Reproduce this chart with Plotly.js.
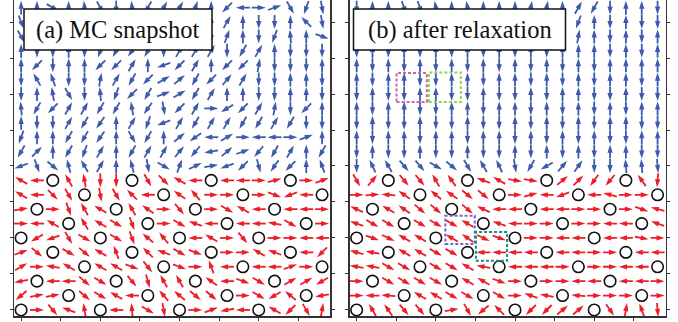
<!DOCTYPE html>
<html><head><meta charset="utf-8">
<script src="https://cdn.plot.ly/plotly-3.0.1.min.js"></script>
<style>html,body{margin:0;padding:0;background:#fff}#chart{width:678px;height:322px}</style>
</head><body><div id="chart"></div>
<script>
// Spin directions in degrees (counter-clockwise from +x). Rows are listed top to bottom.
// Blue rows = y 21..10, red rows = y 9..0. null = vacancy (drawn as open circle).
const aBlue = [
 [90, 90, 330, 90, 95, 300, 270, 95, 240, 60, 60, 70, 90, 225, 180, 0, 20, 300, 250, 280],
 [290, 270, 90, 270, 90, 270, 90, 270, 90, 270, 90, 270, 90, 60, 90, 270, 270, 90, 135, 280],
 [300, 90, 270, 90, 270, 90, 270, 90, 270, 90, 270, 90, 270, 70, 90, 270, 250, 95, 90, 340],
 [90, 270, 270, 90, 270, 250, 240, 235, 240, 270, 60, 60, 60, 270, 240, 60, 90, 270, 270, 270],
 [90, 225, 270, 90, 90, 225, 225, 60, 90, 200, 225, 60, 90, 225, 225, 80, 270, 270, 270, 90],
 [270, 120, 110, 270, 270, 80, 60, 240, 225, 30, 40, 240, 225, 50, 60, 270, 270, 90, 90, 270],
 [270, 90, 100, 300, 270, 95, 250, 225, 240, 20, 30, 240, 60, 90, 90, 270, 270, 90, 90, 270],
 [95, 240, 225, 60, 60, 240, 240, 100, 235, 280, 225, 60, 0, 210, 225, 60, 80, 270, 225, 90],
 [90, 270, 270, 60, 240, 235, 90, 60, 250, 200, 60, 240, 60, 60, 240, 240, 60, 240, 270, 270],
 [250, 90, 90, 240, 240, 235, 90, 300, 240, 90, 40, 215, 180, 30, 0, 180, 180, 0, 20, 90],
 [240, 45, 90, 240, 250, 60, 90, 240, 60, 60, 50, 230, 190, 40, 20, 230, 240, 60, 90, 240],
 [200, 290, 320, 105, 120, 60, 90, 105, 280, 330, 70, 25, 10, 200, 225, 285, 235, 225, 90, 110]
];
const aRed = [
 [150, 180, null, 120, 100, 270, 270, null, 300, 315, 150, 180, null, 180, 180, 0, 15, null, 0, 20],
 [150, 180, 315, 300, null, 280, 300, 135, 180, null, 145, 130, 0, 0, null, 0, 340, 200, 180, null],
 [10, null, 0, 290, 120, 150, null, 120, 145, 0, 310, null, 0, 330, 150, 180, null, 180, 180, 0],
 [0, 180, 150, null, 120, 150, 330, 290, null, 0, 330, 160, 180, null, 180, 180, 170, 330, null, 0],
 [null, 210, 200, 300, 330, null, 330, 290, 140, 130, null, 180, 150, 0, 310, null, 0, 0, 180, 180],
 [20, 320, null, 330, 320, 150, 110, null, 135, 160, 330, 340, null, 0, 0, 150, 160, null, 180, 225],
 [30, 0, 170, 150, null, 150, 150, 340, 310, null, 340, 0, 110, 180, null, 180, 180, 20, 0, null],
 [190, null, 180, 180, 320, 330, null, 310, 285, 120, 120, null, 145, 180, 340, 330, null, 30, 30, 210],
 [220, 10, 10, null, 320, 330, 150, 180, null, 130, 140, 320, 320, null, 0, 330, 210, 140, null, 190],
 [null, 0, 310, 160, 100, null, 180, 95, 330, 280, null, 0, 20, 190, 180, null, 150, 225, 300, 80]
];
const bBlue = [
 [270, 90, 90, 290, 290, 100, 90, 100, 90, 90, 90, 80, 80, 90, 60, 240, 270, 90, 90, 270],
 [270, 90, 270, 90, 270, 90, 270, 90, 270, 90, 270, 90, 270, 90, 250, 90, 270, 90, 270, 270],
 [270, 90, 270, 90, 270, 90, 270, 90, 270, 90, 270, 90, 270, 90, 80, 90, 270, 90, 270, 90],
 [270, 90, 270, 90, 270, 90, 270, 90, 270, 90, 270, 90, 270, 90, 90, 90, 270, 90, 270, 90],
 [90, 270, 90, 270, 90, 270, 90, 270, 90, 270, 90, 270, 90, 270, 90, 270, 90, 90, 90, 90],
 [90, 270, 90, 90, 270, 270, 90, 90, 270, 90, 90, 270, 90, 270, 90, 270, 90, 90, 270, 90],
 [270, 90, 270, 270, 90, 90, 270, 270, 90, 270, 270, 90, 270, 90, 90, 270, 270, 90, 270, 270],
 [90, 270, 90, 90, 270, 270, 90, 90, 270, 90, 90, 270, 90, 270, 90, 270, 90, 270, 90, 90],
 [270, 90, 270, 270, 90, 270, 270, 90, 270, 270, 90, 270, 90, 270, 90, 270, 90, 90, 270, 270],
 [90, 270, 90, 90, 270, 90, 90, 270, 90, 90, 270, 90, 270, 90, 270, 90, 270, 270, 90, 90],
 [270, 90, 270, 270, 90, 270, 270, 90, 270, 270, 90, 270, 90, 270, 90, 270, 90, 90, 270, 270],
 [270, 115, 120, 310, 310, 330, 320, 300, 120, 115, 280, 240, 210, 50, 55, 270, 270, 95, 95, 275]
];
const bRed = [
 [300, 50, null, 310, 310, 120, 125, null, 160, 150, 350, 350, null, 40, 45, 235, 230, null, 125, 265],
 [0, 5, 175, 145, null, 140, 145, 320, 320, null, 0, 15, 180, 200, null, 180, 165, 0, 0, null],
 [155, null, 150, 145, 320, 320, null, 320, 155, 180, 180, null, 180, 180, 0, 0, null, 0, 340, 165],
 [160, 330, 330, null, 330, 330, 330, 150, null, 160, 180, 0, 0, null, 0, 0, 180, 180, null, 160],
 [null, 340, 335, 150, 150, null, 150, 145, 335, 340, null, 0, 0, 180, 180, null, 180, 180, 350, 0],
 [165, 170, null, 150, 150, 330, 330, null, 180, 180, 180, 180, null, 180, 180, 0, 0, null, 180, 180],
 [170, 170, 330, 330, null, 330, 330, 150, 170, null, 180, 180, 180, 0, null, 0, 0, 180, 180, null],
 [0, null, 330, 330, 330, 330, null, 150, 150, 340, 0, null, 0, 0, 180, 180, null, 180, 180, 0],
 [0, 180, 175, null, 150, 150, 330, 330, null, 330, 0, 160, 170, null, 175, 0, 0, 0, null, 0],
 [null, 120, 125, 310, 310, null, 10, 300, 220, 135, null, 225, 225, 40, 40, null, 305, 80, 110, 275]
];
const panelLabels = ['(a) MC snapshot', '(b) after relaxation'];
const xTicks = [0, 2.5, 5, 7.5, 10, 12.5, 15, 17.5];
const yTicks = [0, 2.5, 5, 7.5, 10, 12.5, 15, 17.5, 20];

const W = 678, H = 322, MB = 6;
const xRange = [-0.45, 19.5], yRange = [-0.42, 21.53];
const domA = [14 / W, 330 / W], domB = [349.5 / W, 665.5 / W];
const pxX = (domA[1] - domA[0]) * W / (xRange[1] - xRange[0]);
const pxY = (H - MB) / (yRange[1] - yRange[0]);
const L = 14, HEAD = 8;
const BLUE = '#3b5bab', RED = '#ea1f28';

function arrows(rows, topRow, xa, ya, color) {
  const sx = [], sy = [], hx = [], hy = [], ha = [], cx = [], cy = [];
  rows.forEach((row, i) => {
    const r = topRow - i;
    row.forEach((a, c) => {
      if (a === null) { cx.push(c); cy.push(r); return; }
      const t = a * Math.PI / 180, ux = Math.cos(t) / pxX, uy = Math.sin(t) / pxY;
      sx.push(c - ux * L / 2, c + ux * (L / 2 - HEAD * 0.6), null);
      sy.push(r - uy * L / 2, r + uy * (L / 2 - HEAD * 0.6), null);
      hx.push(c + ux * L / 2); hy.push(r + uy * L / 2); ha.push(90 - a);
    });
  });
  const out = [
    {type: 'scatter', mode: 'lines', x: sx, y: sy, xaxis: xa, yaxis: ya,
     line: {color: color, width: 1.8}, hoverinfo: 'skip', showlegend: false},
    {type: 'scatter', mode: 'markers', x: hx, y: hy, xaxis: xa, yaxis: ya,
     marker: {symbol: 'arrow', angle: ha, size: 8.5, color: color, line: {width: 0}},
     hoverinfo: 'skip', showlegend: false}
  ];
  if (cx.length) out.push({type: 'scatter', mode: 'markers', x: cx, y: cy, xaxis: xa, yaxis: ya,
     marker: {symbol: 'circle-open', size: 11.5, color: '#111', line: {width: 1.6, color: '#111'}},
     hoverinfo: 'skip', showlegend: false});
  return out;
}

const data = [].concat(
  arrows(aBlue, 21, 'x', 'y', BLUE), arrows(aRed, 9, 'x', 'y', RED),
  arrows(bBlue, 21, 'x2', 'y2', BLUE), arrows(bRed, 9, 'x2', 'y2', RED)
);

function xax(dom) {
  return {domain: dom, range: xRange, showgrid: false, zeroline: false, showline: true,
    linecolor: '#333', linewidth: 1.5, ticks: 'outside', ticklen: 3, tickcolor: '#333',
    tickvals: xTicks, showticklabels: false, mirror: false};
}
function yax(anchor) {
  return {domain: [0, 1], range: yRange, showgrid: false, zeroline: false, showline: true,
    linecolor: '#333', linewidth: 1.5, ticks: 'outside', ticklen: 3, tickcolor: '#333',
    tickvals: yTicks, showticklabels: false, mirror: 'ticks', anchor: anchor};
}
const px = v => v / W, py = v => (H - MB - v) / (H - MB);
function labelBox(x0, x1, text) {
  return {shape: {type: 'rect', xref: 'paper', yref: 'paper', x0: px(x0), x1: px(x1), y0: py(50), y1: py(9),
      fillcolor: '#fff', line: {color: '#111', width: 1.5}, layer: 'above'},
    ann: {xref: 'paper', yref: 'paper', x: px((x0 + x1) / 2), y: py(29.5), xanchor: 'center', yanchor: 'middle',
      text: text, showarrow: false,
      font: {family: '"Liberation Serif", "Times New Roman", serif', size: 24.5, color: '#111'}}};
}
const la = labelBox(24, 212, panelLabels[0]), lb = labelBox(353.5, 565.5, panelLabels[1]);
function dbox(xa, ya, x0, x1, y0, y1, color) {
  return {type: 'rect', xref: xa, yref: ya, x0: x0, x1: x1, y0: y0, y1: y1,
    line: {color: color, width: 2, dash: '3px,2px'}, layer: 'above'};
}
const layout = {
  width: W, height: H, margin: {l: 0, r: 0, t: 0, b: MB},
  paper_bgcolor: '#fff', plot_bgcolor: '#fff', showlegend: false,
  xaxis: xax(domA), yaxis: yax('x'), xaxis2: xax(domB), yaxis2: yax('x2'),
  shapes: [la.shape, lb.shape,
    dbox('x2', 'y2', 2.52, 4.43, 14.45, 16.46, '#c864a8'),
    dbox('x2', 'y2', 4.56, 6.58, 14.45, 16.5, '#8ed455'),
    dbox('x2', 'y2', 5.6, 7.46, 4.58, 6.55, '#7c62c4'),
    dbox('x2', 'y2', 7.53, 9.5, 3.42, 5.42, '#148c88')],
  annotations: [la.ann, lb.ann]
};
Plotly.newPlot('chart', data, layout, {staticPlot: true, displayModeBar: false});
</script></body></html>
